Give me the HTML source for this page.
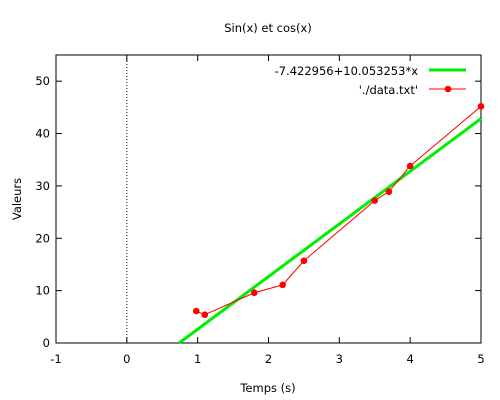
<!DOCTYPE html>
<html><head><meta charset="utf-8"><style>
html,body{margin:0;padding:0;background:#fff;}
svg{display:block;font-family:"DejaVu Sans","Liberation Sans",sans-serif;}
</style></head><body>
<svg id="chart" width="500" height="400" viewBox="0 0 500 400" xmlns="http://www.w3.org/2000/svg">
<text x="268" y="32" text-anchor="middle" font-size="11.5">Sin(x) et cos(x)</text>
<text x="268" y="392" text-anchor="middle" font-size="11.5">Temps (s)</text>
<text transform="translate(21,199) rotate(-90)" text-anchor="middle" font-size="11.5">Valeurs</text>
<g id="axes"></g>
<g id="marks"></g>
<g>
<text x="418" y="75" text-anchor="end" font-size="11.5">-7.422956+10.053253*x</text>
<line x1="429" y1="70" x2="466" y2="70" stroke="#00ee00" stroke-width="3"/>
<text x="418" y="94" text-anchor="end" font-size="11.5">'./data.txt'</text>
<line x1="429" y1="89" x2="466" y2="89" stroke="#ff0000" stroke-width="1"/>
<circle cx="448" cy="89" r="3.3" fill="#ff0000"/>
</g>
</svg>
<script>
const xTicks = [-1,0,1,2,3,4,5];
const yTicks = [0,10,20,30,40,50];
const dataX = [0.98,1.1,1.8,2.2,2.5,3.5,3.7,4.0,5.0];
const dataY = [6.1,5.4,9.6,11.1,15.7,27.2,28.9,33.8,45.2];
const fitA = -7.422956;
const fitB = 10.053253;

const L=56,R=481,T=55,B=343,xMin=-1,xMax=5,yMin=0,yMax=55;
const sx=v=>L+(v-xMin)/(xMax-xMin)*(R-L);
const sy=v=>B-(v-yMin)/(yMax-yMin)*(B-T);
const NS="http://www.w3.org/2000/svg";
function mk(tag,attrs,parent){const e=document.createElementNS(NS,tag);for(const k in attrs)e.setAttribute(k,attrs[k]);parent.appendChild(e);return e;}
const axes=document.getElementById('axes'), marks=document.getElementById('marks');

const z=mk('line',{x1:sx(0),y1:T,x2:sx(0),y2:B,stroke:'#000','stroke-width':1,'stroke-dasharray':'1,2'},axes);



xTicks.forEach(t=>{
  const x=sx(t);
  const a=mk('line',{x1:x,y1:B,x2:x,y2:B-6,stroke:'#000'},axes);
  
  
  const b=mk('line',{x1:x,y1:T,x2:x,y2:T+6,stroke:'#000'},axes);
  
  
  const tx=mk('text',{x:x,y:B+20,'text-anchor':'middle','font-size':11.5},axes);
  tx.textContent=t;
  
  
});
yTicks.forEach(t=>{
  const y=sy(t);
  const a=mk('line',{x1:L,y1:y,x2:L+6,y2:y,stroke:'#000'},axes);
  
  
  const b=mk('line',{x1:R,y1:y,x2:R-6,y2:y,stroke:'#000'},axes);
  
  
  const tx=mk('text',{x:L-6,y:y+4,'text-anchor':'end','font-size':11.5},axes);
  tx.textContent=t;
  
  
});
const fr=mk('rect',{x:L,y:T,width:R-L,height:B-T,fill:'none',stroke:'#000','stroke-width':1},axes);



let x0=Math.max(xMin,(yMin-fitA)/fitB), x1=Math.min(xMax,(yMax-fitA)/fitB);
const fl=mk('line',{x1:sx(x0),y1:sy(fitA+fitB*x0),x2:sx(x1),y2:sy(fitA+fitB*x1),stroke:'#00ee00','stroke-width':3},marks);



const pts=dataX.map((x,i)=>sx(x)+','+sy(dataY[i])).join(' ');
const pl=mk('polyline',{points:pts,fill:'none',stroke:'#ff0000','stroke-width':1},marks);


dataX.forEach((x,i)=>{
  const c=mk('circle',{cx:sx(x),cy:sy(dataY[i]),r:3.3,fill:'#ff0000'},marks);
  
  
});
</script>
</body></html>
